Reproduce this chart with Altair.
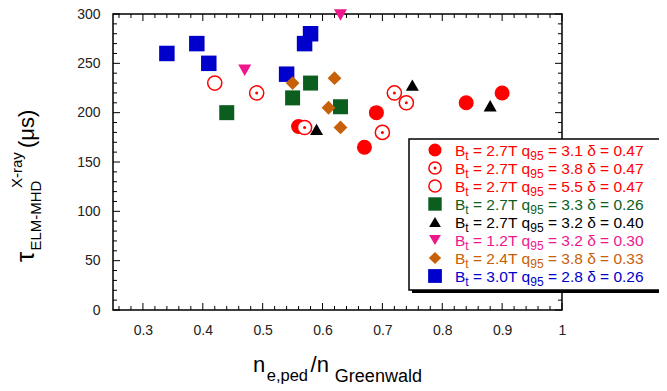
import altair as alt
import pandas as pd

FONT = "Liberation Sans"

# ---------------- data ----------------
red_fill_x = [0.56, 0.67, 0.69, 0.84, 0.90]
red_fill_y = [186, 165, 200, 210, 220]
red_dot_x = [0.49, 0.57, 0.70, 0.72, 0.74]
red_dot_y = [220, 185, 180, 220, 210]
red_open_x = [0.42]
red_open_y = [230]
green_x = [0.44, 0.55, 0.58, 0.63]
green_y = [200, 215, 230, 206]
black_x = [0.59, 0.75, 0.88]
black_y = [183, 228, 207]
mag_x = [0.47, 0.63]
mag_y = [243, 299]
orange_x = [0.55, 0.61, 0.62, 0.63]
orange_y = [230, 205, 235, 185]
blue_x = [0.34, 0.39, 0.41, 0.54, 0.57, 0.58]
blue_y = [260, 270, 250, 239, 270, 280]

x_major = [0.3, 0.4, 0.5, 0.6, 0.7, 0.8, 0.9, 1.0]
x_minor = [v / 100 for v in range(26, 100, 2) if v % 10 != 0]
y_major = [0, 50, 100, 150, 200, 250, 300]
y_minor = [v for v in range(10, 300, 10) if v % 50 != 0]

leg_bt = ["2.7T", "2.7T", "2.7T", "2.7T", "2.7T", "1.2T", "2.4T", "3.0T"]
leg_q = ["3.1", "3.8", "5.5", "3.3", "3.2", "3.2", "3.8", "2.8"]
leg_d = ["0.47", "0.47", "0.47", "0.26", "0.40", "0.30", "0.33", "0.26"]

RED = "#ff0000"
GREEN = "#0c5e1e"
BLACK = "#000000"
MAG = "#f0168c"
ORANGE = "#c8600a"
BLUE = "#0000cc"
leg_colors = [RED, RED, RED, GREEN, BLACK, MAG, ORANGE, BLUE]

# ---------------- layout ----------------
W, H = 449, 296
ONE = pd.DataFrame({"k": [0]})

AW = {" ": 278, "(": 333, ")": 333, ",": 278, "-": 333, ".": 278, "/": 278, "=": 584,
      "B": 667, "D": 722, "E": 667, "G": 778, "H": 722, "L": 556, "M": 833, "T": 611, "X": 667,
      "a": 556, "d": 556, "e": 556, "l": 222, "n": 556, "p": 556, "q": 556, "r": 333,
      "s": 500, "t": 278, "w": 722, "y": 500, "δ": 556, "μ": 576, "τ": 440}


def tw(s, size):
    return sum(AW.get(c, 556) for c in s) / 1000 * size


def txt(s, x, y, size, color="black", angle=0):
    return alt.Chart(ONE).mark_text(
        text=s, font=FONT, fontSize=size, color=color, align="left",
        baseline="alphabetic", angle=angle
    ).encode(x=alt.value(x), y=alt.value(y))


xs = alt.Scale(domain=[0.25, 1.0], nice=False, zero=False)
ys = alt.Scale(domain=[0, 300], nice=False, zero=False)
xaxis = alt.Axis(values=x_major, format="~g", title=None, ticks=False, tickSize=0,
                 domain=False, grid=False, labelFont=FONT, labelFontSize=14,
                 labelColor="#222222", labelPadding=13, labelFlush=False)
yaxis = alt.Axis(values=y_major, format="d", title=None, ticks=False, tickSize=0,
                 domain=False, grid=False, labelFont=FONT, labelFontSize=14,
                 labelColor="#222222", labelPadding=13, labelFlush=False)

layers = []

# inward ticks on all four sides
for vals, ln in ((x_major, 7), (x_minor, 4)):
    d = pd.DataFrame({"t": vals})
    layers.append(alt.Chart(d).mark_rule(color="black", strokeWidth=1).encode(
        x=alt.X("t:Q", scale=xs, axis=xaxis), y=alt.value(H), y2=alt.value(H - ln)))
    layers.append(alt.Chart(d).mark_rule(color="black", strokeWidth=1).encode(
        x=alt.X("t:Q", scale=xs, axis=xaxis), y=alt.value(0), y2=alt.value(ln)))
for vals, ln in ((y_major, 7), (y_minor, 4)):
    d = pd.DataFrame({"t": vals})
    layers.append(alt.Chart(d).mark_rule(color="black", strokeWidth=1).encode(
        y=alt.Y("t:Q", scale=ys, axis=yaxis), x=alt.value(0), x2=alt.value(ln)))
    layers.append(alt.Chart(d).mark_rule(color="black", strokeWidth=1).encode(
        y=alt.Y("t:Q", scale=ys, axis=yaxis), x=alt.value(W), x2=alt.value(W - ln)))


def pts(xv, yv, shape, color, size, filled=True, sw=1.5):
    d = pd.DataFrame({"x": xv, "y": yv})
    kw = dict(shape=shape, size=size, opacity=1)
    if filled:
        kw.update(filled=True, fill=color, strokeWidth=0)
    else:
        kw.update(filled=False, stroke=color, strokeWidth=sw, fill="white", fillOpacity=1)
    return alt.Chart(d).mark_point(**kw).encode(
        x=alt.X("x:Q", scale=xs, axis=xaxis), y=alt.Y("y:Q", scale=ys, axis=yaxis))


layers += [
    pts(blue_x, blue_y, "square", BLUE, 240),
    pts(green_x, green_y, "square", GREEN, 225),
    pts(orange_x, orange_y, "diamond", ORANGE, 190),
    pts(red_open_x, red_open_y, "circle", RED, 200, filled=False),
    pts(red_fill_x, red_fill_y, "circle", RED, 225),
    pts(red_dot_x, red_dot_y, "circle", RED, 200, filled=False),
    pts(red_dot_x, red_dot_y, "circle", RED, 9),
    pts(black_x, black_y, "triangle-up", BLACK, 170),
    pts(mag_x, mag_y, "triangle-down", MAG, 170),
]

# ---------------- legend ----------------
LX0, LX1, LY0, LY1 = 296, 549, 125, 276
layers.append(alt.Chart(ONE).mark_rect(fill="black").encode(
    x=alt.value(LX0 + 3), x2=alt.value(LX1 + 3), y=alt.value(LY0 + 3), y2=alt.value(LY1 + 3)))
layers.append(alt.Chart(ONE).mark_rect(fill="white", stroke="black", strokeWidth=1.5).encode(
    x=alt.value(LX0), x2=alt.value(LX1), y=alt.value(LY0), y2=alt.value(LY1)))

leg_shapes = [("circle", True, 170), ("circle", False, 150), ("circle", False, 150),
              ("square", True, 180), ("triangle-up", True, 140), ("triangle-down", True, 140),
              ("diamond", True, 150), ("square", True, 190)]
MF, SF = 15.5, 12
for i in range(8):
    yb = 141.7 + 18 * i
    col = leg_colors[i]
    shp, fil, sz = leg_shapes[i]
    if fil:
        mk = alt.Chart(ONE).mark_point(shape=shp, filled=True, fill=col, strokeWidth=0,
                                       size=sz, opacity=1)
    else:
        mk = alt.Chart(ONE).mark_point(shape=shp, filled=False, stroke=col, strokeWidth=1.5,
                                       size=sz, opacity=1)
    layers.append(mk.encode(x=alt.value(322), y=alt.value(yb - 5.7)))
    if i == 1:
        layers.append(alt.Chart(ONE).mark_point(shape="circle", filled=True, fill=col,
                                                strokeWidth=0, size=9, opacity=1)
                      .encode(x=alt.value(322), y=alt.value(yb - 5.7)))
    x = 342.0
    layers.append(txt("B", x, yb, MF, col)); x += tw("B", MF)
    layers.append(txt("t", x, yb + 4, SF, col)); x += tw("t", SF)
    s = " = " + leg_bt[i] + " q"
    layers.append(txt(s.strip(), x + tw(" ", MF), yb, MF, col)); x += tw(s, MF)
    layers.append(txt("95", x, yb + 4, SF, col)); x += tw("95", SF)
    s = " = " + leg_q[i] + " δ = " + leg_d[i]
    layers.append(txt(s.strip(), x + tw(" ", MF), yb, MF, col))

# ---------------- axis titles ----------------
# x title: n_{e,ped} / n_{Greenwald}
x = 140.0
XB = 357.5
layers.append(txt("n", x, XB, 22)); x += tw("n", 22) + 1.5
layers.append(txt("e,ped", x, XB + 9, 16.5)); x += tw("e,ped", 16.5) + 2.5
layers.append(txt("/n", x, XB, 22)); x += tw("/n", 22) + 6
layers.append(txt("Greenwald", x, XB + 10, 18))

# y title (rotated): tau_{ELM-MHD}^{X-ray} (mus)
YBX = -79
YS = 12
layers.append(txt("τ", YBX, 236 + YS, 26, angle=270))
layers.append(txt("ELM-MHD", YBX + 7, 236 + YS - tw("τ", 26), 15, angle=270))
layers.append(txt("X-ray", YBX - 12, 162 + YS, 15, angle=270))
layers.append(txt("(μs)", YBX, 122 + YS, 22, angle=270))

chart = alt.layer(*layers).properties(
    width=W, height=H,
    autosize=alt.AutoSizeParams(type="none"),
    padding={"left": 105, "top": 6, "right": 97, "bottom": 75},
).configure_view(stroke="black", strokeWidth=1.5)

chart.save("out.html", embed_options={"renderer": "svg", "actions": False})
